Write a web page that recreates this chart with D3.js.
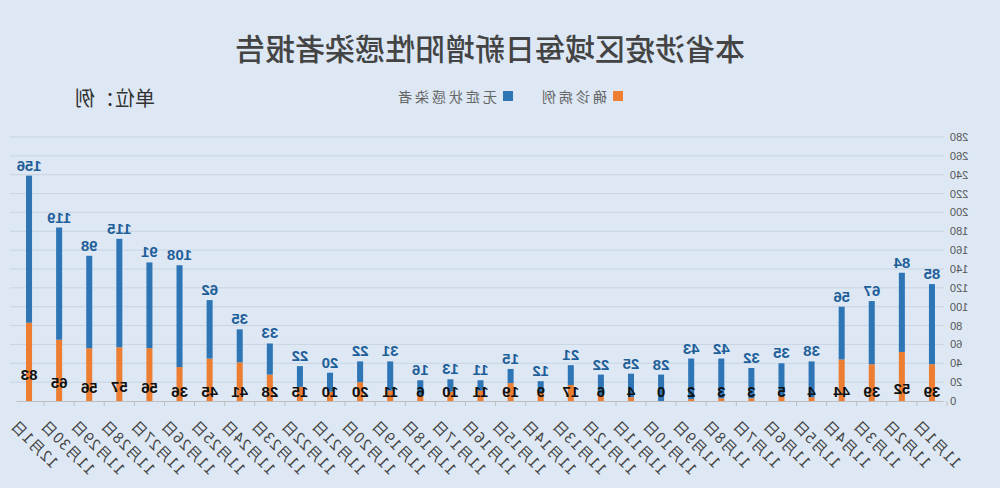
<!DOCTYPE html>
<html><head><meta charset="utf-8">
<script src="https://cdn.jsdelivr.net/npm/d3@7"></script>
<style>body{margin:0;background:#dde8f4}svg{transform:scaleX(-1);display:block}</style>
</head><body><svg id="chart"></svg>
<script>
const dates = ["11月1日","11月2日","11月3日","11月4日","11月5日","11月6日","11月7日","11月8日","11月9日","11月10日","11月11日","11月12日","11月13日","11月14日","11月15日","11月16日","11月17日","11月18日","11月19日","11月20日","11月21日","11月22日","11月23日","11月24日","11月25日","11月26日","11月27日","11月28日","11月29日","11月30日","12月1日"];
const confirmed = [39,52,39,44,4,5,3,3,2,0,4,6,17,9,19,11,10,6,11,20,10,15,28,41,45,36,56,57,56,65,83];
const asymptomatic = [85,84,67,56,38,35,32,42,43,28,25,22,21,12,15,11,13,16,31,22,20,22,33,35,62,108,91,115,98,119,156];
const yTicks = d3.range(0, 281, 20);

const width = 1000, height = 488;
const svg = d3.select('#chart').attr('width', width).attr('height', height);
svg.append('rect').attr('width', width).attr('height', height).attr('fill', '#dde8f4');

const x = d3.scaleBand().domain(dates).range([56, 983]).paddingInner(0.8).paddingOuter(0.3);
const y = d3.scaleLinear().domain([0, 280]).range([401, 137]);

svg.append('g').selectAll('line').data(yTicks.slice(1)).enter().append('line')
  .attr('x1', 56).attr('x2', 990).attr('y1', d => y(d)).attr('y2', d => y(d))
  .attr('stroke', '#c8d4e2').attr('stroke-width', 1);

const yAxis = svg.append('g').attr('transform', 'translate(56,0)')
  .call(d3.axisLeft(y).tickValues(yTicks).tickSize(0).tickPadding(6));
yAxis.select('.domain').remove();
yAxis.selectAll('text').attr('fill', '#555').style('font-size', '11px').style('font-family', 'Liberation Sans');

const xAxis = svg.append('g').attr('transform', 'translate(0,401)')
  .call(d3.axisBottom(x).tickSizeOuter(0).tickSize(0));
xAxis.select('.domain').attr('stroke', '#bfbfbf');
xAxis.selectAll('text').attr('fill', '#444').style('font-size', '15px')
  .style('font-family', 'Noto Sans CJK SC').style('letter-spacing', '1px').style('text-anchor', 'end')
  .attr('transform', 'translate(10,16) rotate(-45)');
const step = x.step();
svg.append('g').selectAll('line').data(dates).enter().append('line')
  .attr('x1', d => x(d) + x.bandwidth() / 2 - step / 2).attr('x2', d => x(d) + x.bandwidth() / 2 - step / 2)
  .attr('y1', 401).attr('y2', 406).attr('stroke', '#bfbfbf');

const bars = svg.append('g').selectAll('g').data(dates).enter().append('g');
bars.append('rect').attr('x', d => x(d)).attr('width', x.bandwidth())
  .attr('y', (d, i) => y(confirmed[i])).attr('height', (d, i) => 401 - y(confirmed[i]))
  .attr('fill', '#ed7d31');
bars.append('rect').attr('x', d => x(d)).attr('width', x.bandwidth())
  .attr('y', (d, i) => y(confirmed[i] + asymptomatic[i]))
  .attr('height', (d, i) => y(confirmed[i]) - y(confirmed[i] + asymptomatic[i]))
  .attr('fill', '#2e75b6');
bars.append('text').attr('x', d => x(d) + x.bandwidth() / 2)
  .attr('y', (d, i) => y(confirmed[i] + asymptomatic[i]) - 5)
  .attr('text-anchor', 'middle').attr('fill', '#1f5f99')
  .style('font', 'bold 15px Liberation Sans').text((d, i) => asymptomatic[i]);
bars.append('text').attr('x', d => x(d) + x.bandwidth() / 2)
  .attr('y', (d, i) => Math.min((y(confirmed[i]) + 401) / 2 + 18, 397))
  .attr('text-anchor', 'middle').attr('fill', '#111')
  .style('font', 'bold 15px Liberation Sans').text((d, i) => confirmed[i]);

svg.append('text').attr('x', 510).attr('y', 60).attr('text-anchor', 'middle')
  .attr('fill', '#444').style('font', '30px Noto Sans CJK SC').style('font-weight', '500')
  .text('本省涉疫区域每日新增阳性感染者报告');
svg.append('text').attr('x', 845).attr('y', 106).attr('fill', '#333')
  .style('font', '20px Noto Sans CJK SC').text('单位：例');

const legend = [["确诊病例", '#ed7d31', 377], ["无症状感染者", '#2e75b6', 487]];
legend.forEach(l => {
  svg.append('rect').attr('x', l[2]).attr('y', 91).attr('width', 10).attr('height', 10).attr('fill', l[1]);
  svg.append('text').attr('x', l[2] + 16).attr('y', 102).attr('fill', '#666')
    .style('font', '14px Noto Sans CJK SC').style('letter-spacing', '3px').text(l[0]);
});
</script></body></html>
